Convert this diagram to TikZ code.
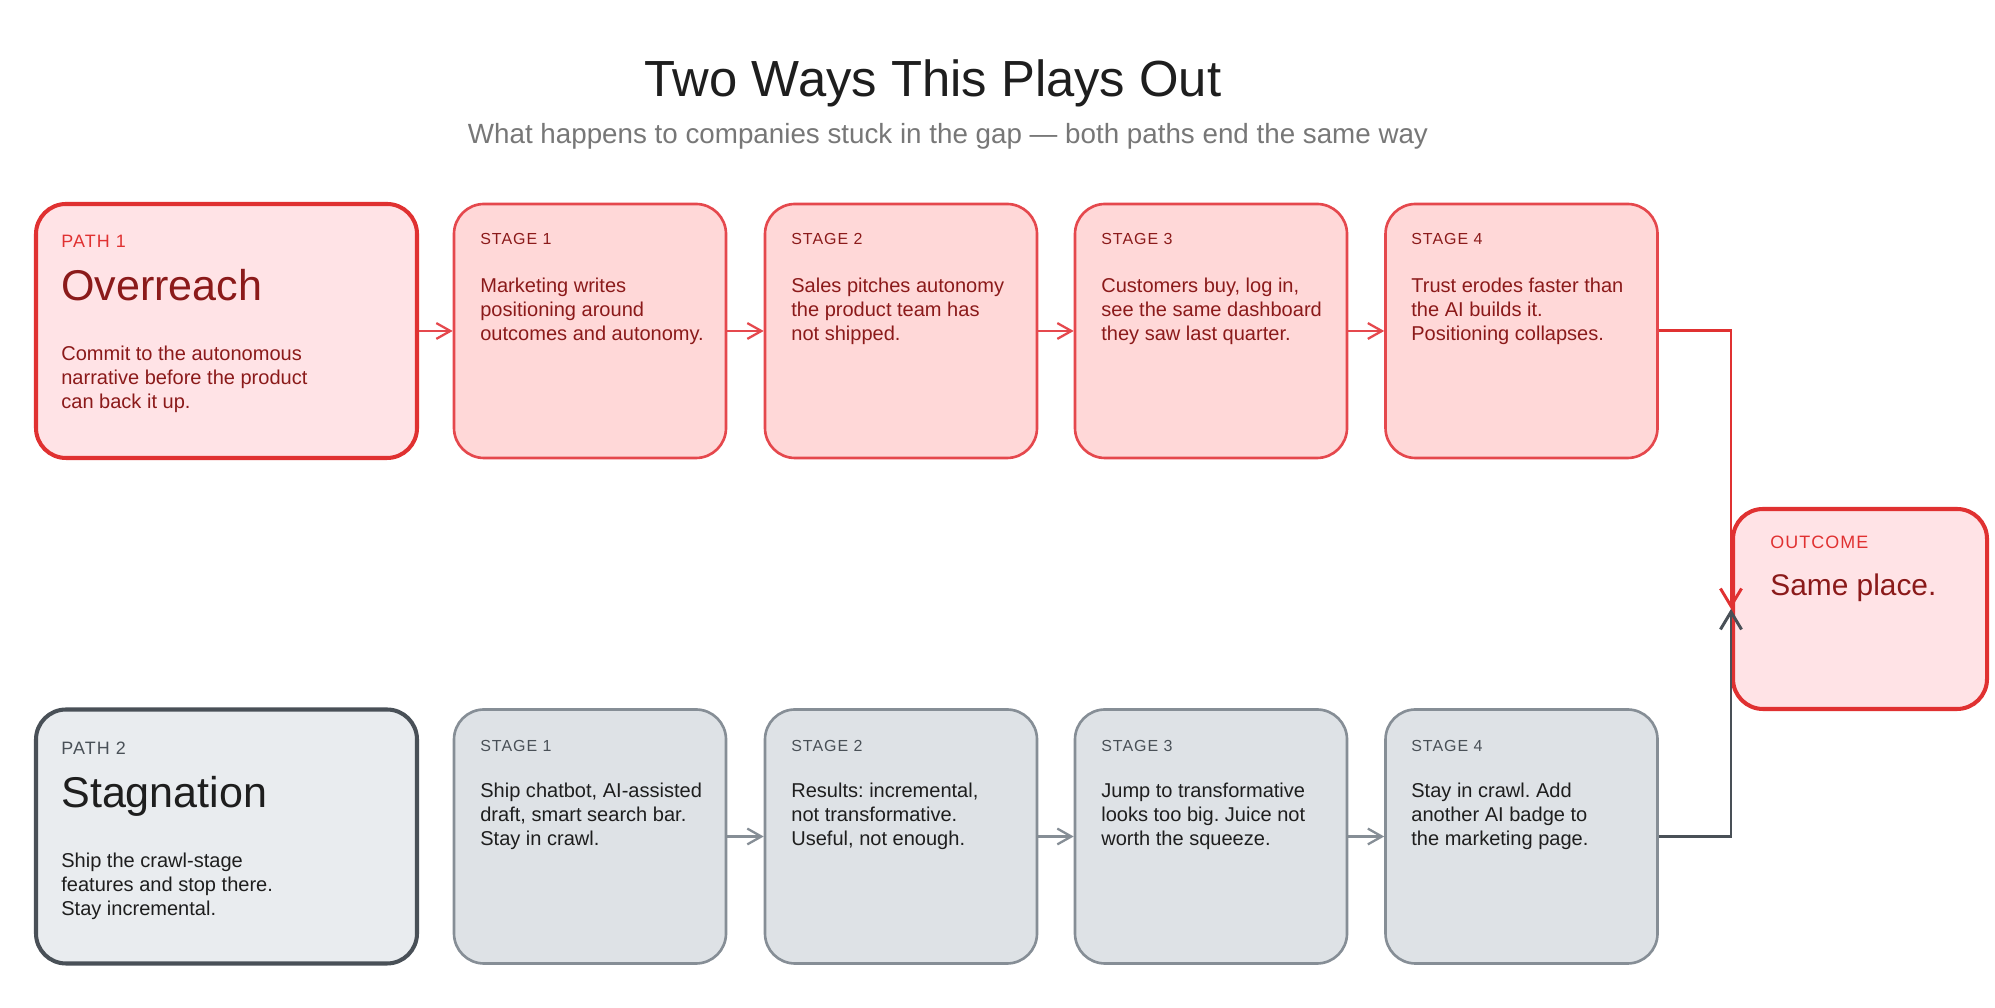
\documentclass[tikz,border=0pt]{standalone}
\usepackage{fontspec}
\setmainfont{Liberation Sans}
\newfontfamily\tagfont{Liberation Sans}[LetterSpace=6]
\usepackage{xcolor}
\usetikzlibrary{positioning,arrows.meta}
\frenchspacing
\definecolor{redline}{HTML}{E03131}
\definecolor{redsoft}{HTML}{E5484D}
\definecolor{redfillA}{HTML}{FFE3E6}
\definecolor{redfillB}{HTML}{FFD8D8}
\definecolor{redink}{HTML}{8B1A1A}
\definecolor{greyline}{HTML}{495057}
\definecolor{greysoft}{HTML}{868E96}
\definecolor{greyfillA}{HTML}{E9ECEF}
\definecolor{greyfillB}{HTML}{DEE2E6}
\definecolor{ink}{HTML}{1E1E1E}
\definecolor{subink}{HTML}{777777}
\tikzset{
  pathred/.style    = {draw=redline, fill=redfillA, line width=2.3pt, rounded corners=0.6cm, minimum width=7.62cm, minimum height=5.08cm, inner sep=0pt},
  pathgrey/.style   = {draw=greyline, fill=greyfillA, line width=2.3pt, rounded corners=0.6cm, minimum width=7.62cm, minimum height=5.08cm, inner sep=0pt},
  stagered/.style   = {draw=redsoft, fill=redfillB, line width=1.5pt, rounded corners=0.6cm, minimum width=5.44cm, minimum height=5.08cm, inner sep=0pt},
  stagegrey/.style  = {draw=greysoft, fill=greyfillB, line width=1.5pt, rounded corners=0.6cm, minimum width=5.44cm, minimum height=5.08cm, inner sep=0pt},
  outbox/.style     = {draw=redline, fill=redfillA, line width=2.3pt, rounded corners=0.6cm, minimum width=5.08cm, minimum height=4.0cm, inner sep=0pt},
  heading/.style    = {font=\fontsize{28.9pt}{34pt}\selectfont, text=ink, inner sep=0pt},
  subhead/.style    = {font=\fontsize{15.8pt}{19pt}\selectfont, text=subink, inner sep=0pt},
  kicker/.style     = {font=\tagfont\fontsize{10.2pt}{12pt}\selectfont, anchor=base west, inner sep=0pt},
  stagetag/.style   = {font=\tagfont\fontsize{9.1pt}{11pt}\selectfont, anchor=base west, inner sep=0pt},
  bigname/.style    = {font=\fontsize{24.5pt}{28pt}\selectfont, anchor=base west, inner sep=0pt},
  endname/.style    = {font=\fontsize{17pt}{20pt}\selectfont, anchor=base west, inner sep=0pt},
  body/.style       = {font=\fontsize{11.4pt}{13.9pt}\selectfont, anchor=base west, align=left, inner sep=0pt},
  flow/.style       = {-{Straight Barb[length=8pt,width=9pt]}, line width=1.3pt},
  joinarr/.style    = {-{Straight Barb[length=10pt,width=12pt]}, line width=1.7pt},
}

\begin{document}
\begin{tikzpicture}[x=1cm,y=1cm]
  \useasboundingbox (0,0) rectangle (39.9,20.16);
  \node[heading] (title) at (18.66,18.5) {Two Ways This Plays Out};
  \node[subhead] (subtitle) at (18.96,17.44) {What happens to companies stuck in the gap — both paths end the same way};

  % path 1, top row (body nodes sit on their last baseline)
  \node[pathred] (p1) at (4.53,13.54) {};
  \node[kicker, text=redline] (p1tag) at (1.22,15.2) {PATH 1};
  \node[bigname, text=redink] (p1name) at (1.22,14.14) {Overreach};
  \node[body, text=redink] (p1text) at (1.22,11.98) {Commit to the autonomous\\narrative before the product\\can back it up.};

  \node[stagered] (a1) at (11.8,13.54) {};
  \node[stagetag, text=redink] (a1tag) at (9.6,15.26) {STAGE 1};
  \node[body, text=redink] (a1text) at (9.6,13.34) {Marketing writes\\positioning around\\outcomes and autonomy.};
  \node[stagered] (a2) at (18.02,13.54) {};
  \node[stagetag, text=redink] (a2tag) at (15.82,15.26) {STAGE 2};
  \node[body, text=redink] (a2text) at (15.82,13.34) {Sales pitches autonomy\\the product team has\\not shipped.};
  \node[stagered] (a3) at (24.22,13.54) {};
  \node[stagetag, text=redink] (a3tag) at (22.02,15.26) {STAGE 3};
  \node[body, text=redink] (a3text) at (22.02,13.34) {Customers buy, log in,\\see the same dashboard\\they saw last quarter.};
  \node[stagered] (a4) at (30.43,13.54) {};
  \node[stagetag, text=redink] (a4tag) at (28.22,15.26) {STAGE 4};
  \node[body, text=redink] (a4text) at (28.22,13.34) {Trust erodes faster than\\the AI builds it.\\Positioning collapses.};

  % path 2, bottom row
  \node[pathgrey] (p2) at (4.53,3.43) {};
  \node[kicker, text=greyline] (p2tag) at (1.22,5.06) {PATH 2};
  \node[bigname, text=ink] (p2name) at (1.22,4.0) {Stagnation};
  \node[body, text=ink] (p2text) at (1.22,1.84) {Ship the crawl-stage\\features and stop there.\\Stay incremental.};

  \node[stagegrey] (b1) at (11.8,3.43) {};
  \node[stagetag, text=greyline] (b1tag) at (9.6,5.12) {STAGE 1};
  \node[body, text=ink] (b1text) at (9.6,3.24) {Ship chatbot, AI-assisted\\draft, smart search bar.\\Stay in crawl.};
  \node[stagegrey] (b2) at (18.02,3.43) {};
  \node[stagetag, text=greyline] (b2tag) at (15.82,5.12) {STAGE 2};
  \node[body, text=ink] (b2text) at (15.82,3.24) {Results: incremental,\\not transformative.\\Useful, not enough.};
  \node[stagegrey] (b3) at (24.22,3.43) {};
  \node[stagetag, text=greyline] (b3tag) at (22.02,5.12) {STAGE 3};
  \node[body, text=ink] (b3text) at (22.02,3.24) {Jump to transformative\\looks too big. Juice not\\worth the squeeze.};
  \node[stagegrey] (b4) at (30.43,3.43) {};
  \node[stagetag, text=greyline] (b4tag) at (28.22,5.12) {STAGE 4};
  \node[body, text=ink] (b4text) at (28.22,3.24) {Stay in crawl. Add\\another AI badge to\\the marketing page.};

  % outcome
  \node[outbox] (out) at (37.2,7.98) {};
  \node[kicker, text=redline] (outtag) at (35.4,9.18) {OUTCOME};
  \node[endname, text=redink] (outname) at (35.4,8.24) {Same place.};

  \draw[flow, draw=redsoft] (p1.east) -- (a1.west);
  \draw[flow, draw=redsoft] (a1.east) -- (a2.west);
  \draw[flow, draw=redsoft] (a2.east) -- (a3.west);
  \draw[flow, draw=redsoft] (a3.east) -- (a4.west);
  \draw[flow, draw=greysoft] (b1.east) -- (b2.west);
  \draw[flow, draw=greysoft] (b2.east) -- (b3.west);
  \draw[flow, draw=greysoft] (b3.east) -- (b4.west);
  \draw[joinarr, draw=redline] (a4.east) -| (out.west);
  \draw[joinarr, draw=greyline] (b4.east) -| (out.west);
\end{tikzpicture}
\end{document}
